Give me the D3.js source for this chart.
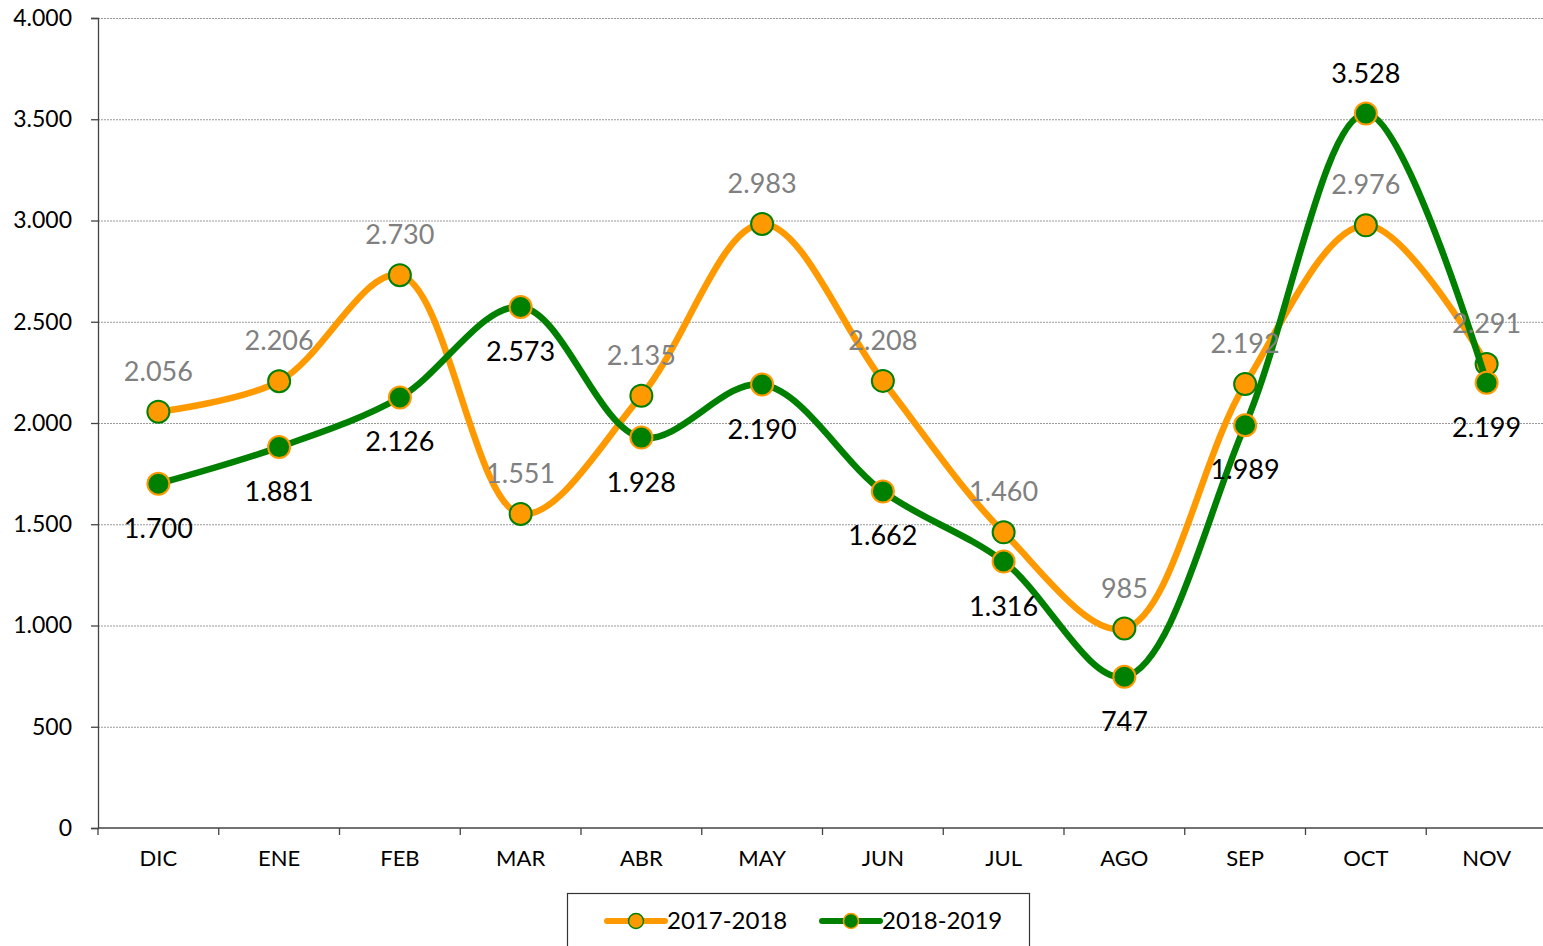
<!DOCTYPE html>
<html>
<head>
<meta charset="utf-8">
<script src="https://cdn.jsdelivr.net/npm/d3@7"></script>
<style>
  body { margin: 0; background: #fff; }
  svg text { font-family: "Gill Sans", "Gill Sans MT", Lato, sans-serif; }
</style>
</head>
<body>
<svg id="chart" width="1543" height="946"></svg>
<script>
// months and series
const months = ["DIC","ENE","FEB","MAR","ABR","MAY","JUN","JUL","AGO","SEP","OCT","NOV"];
const s1718 = [2056, 2206, 2730, 1551, 2135, 2983, 2208, 1460, 985, 2192, 2976, 2291];
const s1819 = [1700, 1881, 2126, 2573, 1928, 2190, 1662, 1316, 747, 1989, 3528, 2199];
const yTicks = [0, 500, 1000, 1500, 2000, 2500, 3000, 3500, 4000];
const seriesNames = ["2017-2018", "2018-2019"];

const orange = "#ff9900", green = "#008000";
const loc = d3.formatLocale({decimal: ",", thousands: ".", grouping: [3], currency: ["", ""]});
const fmt = loc.format(",d");

const svg = d3.select("#chart");
const mLeft = 98, mRight = 1547, mTop = 18, mBottom = 828;

const x = d3.scaleBand().domain(months).range([mLeft, mRight]);
const y = d3.scaleLinear().domain([0, 4000]).range([mBottom, mTop]);

// gridlines
svg.append("g").selectAll("line").data(yTicks.filter(d => d > 0)).join("line")
    .attr("x1", mLeft).attr("x2", 1543)
    .attr("y1", d => y(d) + 0.5).attr("y2", d => y(d) + 0.5)
    .attr("stroke", "#999").attr("stroke-width", 1).attr("stroke-dasharray", "2,1");

// y axis
let ya = svg.append("g").attr("transform", `translate(${mLeft},0)`)
    .call(d3.axisLeft(y).tickValues(yTicks).tickFormat(fmt).tickSize(7).tickPadding(19));
ya.select(".domain").attr("stroke", "#444").attr("stroke-width", 1.3);
ya.selectAll(".tick line").attr("stroke", "#444").attr("stroke-width", 1.3);
ya.selectAll("text").attr("font-size", 23).attr("fill", "#000");

// x axis, ticks at band edges
let xa = svg.append("g").attr("transform", `translate(0,${mBottom})`);
xa.append("line").attr("x1", mLeft).attr("x2", 1543).attr("y1", 0).attr("y2", 0)
    .attr("stroke", "#444").attr("stroke-width", 1.3);
xa.selectAll("line.tk").data(months).join("line").attr("class", "tk")
    .attr("x1", d => x(d)).attr("x2", d => x(d)).attr("y1", 0).attr("y2", 7)
    .attr("stroke", "#444").attr("stroke-width", 1.3);
xa.selectAll("text").data(months).join("text")
    .attr("x", d => x(d) + x.bandwidth() / 2).attr("y", 38)
    .attr("text-anchor", "middle").attr("font-size", 22).attr("fill", "#000")
    .text(d => d);

const line = d3.line()
    .x((d, i) => x(months[i]) + x.bandwidth() / 2)
    .y(d => y(d))
    .curve(d3.curveCatmullRom.alpha(0.5));

function drawSeries(vals, col, edge) {
    let g = svg.append("g");
    g.append("path").datum(vals).attr("d", line)
        .attr("fill", "none").attr("stroke", col).attr("stroke-width", 6.5);
    g.selectAll("circle").data(vals).join("circle")
        .attr("cx", (d, i) => x(months[i]) + x.bandwidth() / 2).attr("cy", d => y(d))
        .attr("r", 11).attr("fill", col).attr("stroke", edge).attr("stroke-width", 2);
    return g;
}
function drawLabels(vals, labCol, above) {
    svg.append("g").selectAll("text").data(vals).join("text")
        .attr("x", (d, i) => x(months[i]) + x.bandwidth() / 2)
        .attr("y", (d, i) => above(d, i) ? y(d) - 31 : y(d) + 54)
        .attr("text-anchor", "middle").attr("font-size", 27).attr("fill", labCol)
        .text(d => fmt(d));
}

drawSeries(s1718, orange, green);
drawSeries(s1819, green, orange);
drawLabels(s1718, "#808080", () => true);
// green labels sit below the point except at its peak
drawLabels(s1819, "#000", d => d === d3.max(s1819));

// legend
let lg = svg.append("g");
lg.append("rect").attr("x", 567.5).attr("y", 893.5).attr("width", 462).attr("height", 60)
    .attr("fill", "#fff").attr("stroke", "#333").attr("stroke-width", 1.2);
const legX = [607, 822];
seriesNames.forEach((nm, i) => {
    let col = i === 0 ? orange : green, edge = i === 0 ? green : orange;
    lg.append("line").attr("x1", legX[i]).attr("x2", legX[i] + 58).attr("y1", 921).attr("y2", 921)
        .attr("stroke", col).attr("stroke-width", 6).attr("stroke-linecap", "round");
    lg.append("circle").attr("cx", legX[i] + 29).attr("cy", 921).attr("r", 7.5)
        .attr("fill", col).attr("stroke", edge).attr("stroke-width", 1.5);
    lg.append("text").attr("x", legX[i] + 60).attr("y", 929).attr("font-size", 24)
        .attr("fill", "#000").text(nm);
});
</script>
</body>
</html>
